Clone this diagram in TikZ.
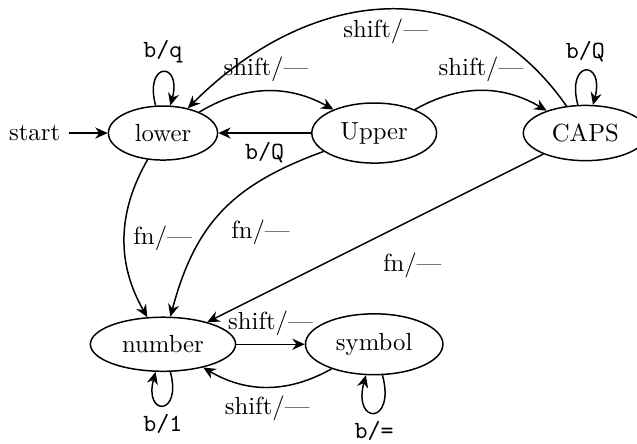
\documentclass[tikz,border=0pt]{standalone}
\usepackage{tikz}
\usetikzlibrary{shapes.geometric, arrows.meta, positioning}

\begin{document}
\begin{tikzpicture}[
  node distance=3cm,
  >={Stealth[length=5pt, width=4.5pt]},
  state/.style={draw, ellipse, on grid, semithick, inner sep=4.2pt},
  arr/.style={->, semithick}
]
\useasboundingbox (0,0) rectangle (9.048,6.293);
\node[state] (lower) at (2.315,4.403) {lower};
\node[state, right=of lower] (Upper) {Upper};
\node[state, right=of Upper] (CAPS) {CAPS};
\node[state, below=of lower] (number) {number};
\node[state, right=of number] (symbol) {symbol};
\node[left=5.5mm of lower] (start) {start};

\draw[arr] (start) -- (lower);
\draw[arr] (lower) to[loop above] node[above] {\texttt{b/q}} ();
\draw[arr] (CAPS) to[loop above] node[above] {\texttt{b/Q}} ();
\draw[arr] (number) to[loop below] node[below] {\texttt{b/1}} ();
\draw[arr] (symbol) to[loop below] node[below] {\texttt{b/=}} ();

\draw[arr] (lower) to[bend left=30] node[above] {shift/---} (Upper);
\draw[arr] (Upper) -- node[below] {\texttt{b/Q}} (lower);
\draw[arr] (Upper) to[bend left=30] node[above] {shift/---} (CAPS);
\draw[arr] (CAPS) to[out=125, in=45, looseness=1.15] node[below] {shift/---} (lower);

\draw[arr] (lower) to[bend right=30] node[right] {fn/---} (number);
\draw[arr] (Upper) to[out=200, in=75, looseness=1.1] node[below right] {fn/---} (number);
\draw[arr] (CAPS) -- node[pos=0.39, below=10pt] {fn/---} (number);

\draw[arr] (number) -- node[above] {shift/---} (symbol);
\draw[arr] (symbol) to[bend left=30] node[below] {shift/---} (number);
\end{tikzpicture}
\end{document}
